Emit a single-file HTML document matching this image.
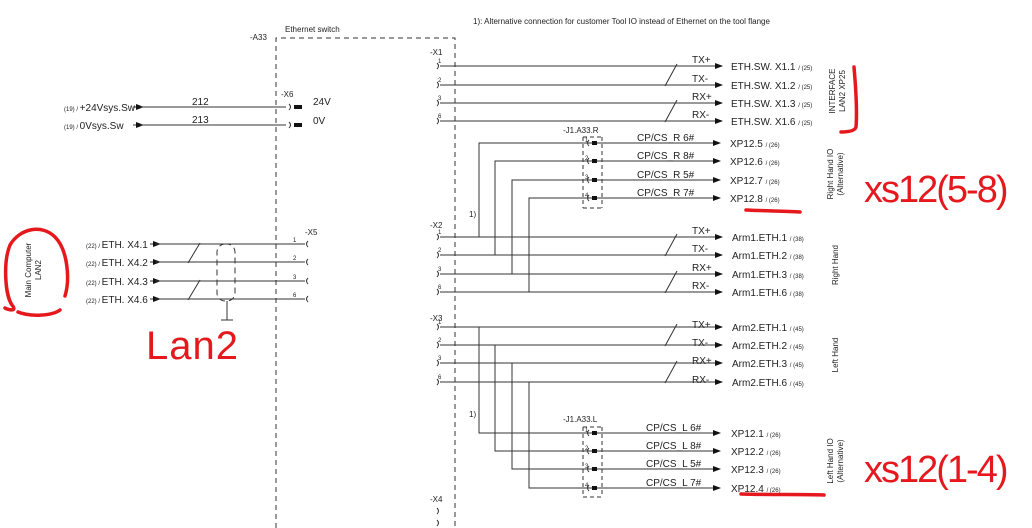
<!DOCTYPE html>
<html><head><meta charset="utf-8"><style>
body{margin:0;background:#fff}
svg{display:block}
text{font-family:"Liberation Sans",sans-serif;fill:#222}
.s{font-size:10px}
.t{font-size:6px}
.r{fill:none;stroke:#e5191d;stroke-width:3.5;stroke-linecap:round;stroke-linejoin:round}
</style></head><body>
<svg width="1032" height="528" viewBox="0 0 1032 528" xmlns="http://www.w3.org/2000/svg">
<defs><marker id="a" markerWidth="8" markerHeight="6" refX="7" refY="3" orient="auto" markerUnits="userSpaceOnUse"><path d="M0,0L8,3L0,6z" fill="#111"/></marker></defs>
<g stroke="#333" stroke-width="1" fill="none">
<path d="M276,528V38H455V528" stroke-dasharray="5,4"/>
<g marker-end="url(#a)">
<path d="M440,66H722"/><path d="M440,85H722"/><path d="M440,103H722"/><path d="M440,121H722"/>
<path d="M440,237H722"/><path d="M440,255H722"/><path d="M440,274H722"/><path d="M440,292H722"/>
<path d="M440,327H722"/><path d="M440,345H722"/><path d="M440,363H722"/><path d="M440,382H722"/>
<path d="M479,237V143H720"/><path d="M495,255V161H720"/><path d="M512,274V180H720"/><path d="M529,292V198H720"/>
<path d="M479,327V433H720"/><path d="M495,345V451H720"/><path d="M512,363V469H720"/><path d="M529,382V488H720"/>
<path d="M133,107H143"/><path d="M133,125H143"/>
<path d="M150,244H160"/><path d="M150,262H160"/><path d="M150,281H160"/><path d="M150,299H160"/>
</g>
<path d="M665,86L677,64M665,122L677,100M665,256L677,234M665,293L677,271M665,346L677,324M665,383L677,361"/>
<path d="M583,137V208M602,137V208M583,208H602M583,137H602" stroke-dasharray="4,3"/>
<path d="M583,427V497M602,427V497M583,497H602M583,427H602" stroke-dasharray="4,3"/>
<path d="M286,107H140M286,125H140"/>
<path d="M305,244H155M305,262H155M305,281H155M305,299H155"/>
<path d="M188,263L200,243M188,300L200,280"/>
<rect x="217" y="244" width="18" height="57" rx="8" stroke-dasharray="6,4"/>
<path d="M227,301V320M221,320H233"/>
<path d="M437,63q3,3 0,6M437,82q3,3 0,6M437,100q3,3 0,6M437,118q3,3 0,6M437,234q3,3 0,6M437,252q3,3 0,6M437,271q3,3 0,6M437,289q3,3 0,6M437,324q3,3 0,6M437,342q3,3 0,6M437,360q3,3 0,6M437,379q3,3 0,6M437,508q3,3 0,6M437,520q3,3 0,6"/>
<path d="M308,241q-3,3 0,6M308,259q-3,3 0,6M308,278q-3,3 0,6M308,296q-3,3 0,6"/>
<path d="M289,104q3,3 0,6M289,122q3,3 0,6M589,140q-3,3 0,6M589,158q-3,3 0,6M589,177q-3,3 0,6M589,195q-3,3 0,6M589,430q-3,3 0,6M589,448q-3,3 0,6M589,466q-3,3 0,6M589,485q-3,3 0,6"/>
</g>
<g fill="#111">
<rect x="294" y="105" width="8" height="4"/><rect x="294" y="123" width="8" height="4"/>
<rect x="592" y="141" width="5" height="4"/><rect x="592" y="159" width="5" height="4"/><rect x="592" y="178" width="5" height="4"/><rect x="592" y="196" width="5" height="4"/>
<rect x="592" y="431" width="5" height="4"/><rect x="592" y="449" width="5" height="4"/><rect x="592" y="467" width="5" height="4"/><rect x="592" y="486" width="5" height="4"/>
</g>
<text x="473" y="24" style="font-size:8px">1):  Alternative connection for customer Tool IO instead of Ethernet on the tool flange</text>
<text x="285" y="32" style="font-size:8px">Ethernet switch</text>
<text x="250" y="40" style="font-size:8px">-A33</text>
<text x="430" y="55" style="font-size:8px">-X1</text>
<text x="430" y="228" style="font-size:8px">-X2</text>
<text x="430" y="321" style="font-size:8px">-X3</text>
<text x="430" y="502" style="font-size:8px">-X4</text>
<text x="281" y="97" style="font-size:8px">-X6</text>
<text x="305" y="235" style="font-size:8px">-X5</text>
<text x="563" y="133" style="font-size:8px">-J1.A33.R</text>
<text x="563" y="422" style="font-size:8px">-J1.A33.L</text>
<text x="469" y="217" style="font-size:8px">1)</text>
<text x="469" y="417" style="font-size:8px">1)</text>
<g class="s">
<text x="692" y="63">TX+</text><text x="692" y="82">TX-</text><text x="692" y="100">RX+</text><text x="692" y="118">RX-</text>
<text x="692" y="234">TX+</text><text x="692" y="252">TX-</text><text x="692" y="271">RX+</text><text x="692" y="289">RX-</text>
<text x="692" y="328">TX+</text><text x="692" y="346">TX-</text><text x="692" y="364">RX+</text><text x="692" y="383">RX-</text>
<text x="637" y="141">CP/CS_R 6#</text><text x="637" y="159">CP/CS_R 8#</text><text x="637" y="178">CP/CS_R 5#</text><text x="637" y="196">CP/CS_R 7#</text>
<text x="646" y="431">CP/CS_L 6#</text><text x="646" y="449">CP/CS_L 8#</text><text x="646" y="467">CP/CS_L 5#</text><text x="646" y="486">CP/CS_L 7#</text>
<text x="731" y="70">ETH.SW. X1.1 <tspan class="t">/ (25)</tspan></text>
<text x="731" y="89">ETH.SW. X1.2 <tspan class="t">/ (25)</tspan></text>
<text x="731" y="107">ETH.SW. X1.3 <tspan class="t">/ (25)</tspan></text>
<text x="731" y="125">ETH.SW. X1.6 <tspan class="t">/ (25)</tspan></text>
<text x="730" y="147">XP12.5 <tspan class="t">/ (26)</tspan></text>
<text x="730" y="165">XP12.6 <tspan class="t">/ (26)</tspan></text>
<text x="730" y="184">XP12.7 <tspan class="t">/ (26)</tspan></text>
<text x="730" y="202">XP12.8 <tspan class="t">/ (26)</tspan></text>
<text x="732" y="241">Arm1.ETH.1 <tspan class="t">/ (38)</tspan></text>
<text x="732" y="259">Arm1.ETH.2 <tspan class="t">/ (38)</tspan></text>
<text x="732" y="278">Arm1.ETH.3 <tspan class="t">/ (38)</tspan></text>
<text x="732" y="296">Arm1.ETH.6 <tspan class="t">/ (38)</tspan></text>
<text x="732" y="331">Arm2.ETH.1 <tspan class="t">/ (45)</tspan></text>
<text x="732" y="349">Arm2.ETH.2 <tspan class="t">/ (45)</tspan></text>
<text x="732" y="367">Arm2.ETH.3 <tspan class="t">/ (45)</tspan></text>
<text x="732" y="386">Arm2.ETH.6 <tspan class="t">/ (45)</tspan></text>
<text x="731" y="437">XP12.1 <tspan class="t">/ (26)</tspan></text>
<text x="731" y="455">XP12.2 <tspan class="t">/ (26)</tspan></text>
<text x="731" y="473">XP12.3 <tspan class="t">/ (26)</tspan></text>
<text x="731" y="492">XP12.4 <tspan class="t">/ (26)</tspan></text>
<text x="64" y="111"><tspan class="t">(19) / </tspan>+24Vsys.Sw</text>
<text x="64" y="129"><tspan class="t">(19) / </tspan>0Vsys.Sw</text>
<text x="192" y="105">212</text><text x="192" y="123">213</text>
<text x="313" y="105">24V</text><text x="313" y="124">0V</text>
<text x="86" y="248"><tspan class="t">(22) / </tspan>ETH. X4.1</text>
<text x="86" y="266"><tspan class="t">(22) / </tspan>ETH. X4.2</text>
<text x="86" y="285"><tspan class="t">(22) / </tspan>ETH. X4.3</text>
<text x="86" y="303"><tspan class="t">(22) / </tspan>ETH. X4.6</text>
</g>
<g class="t">
<text x="293" y="242">1</text><text x="293" y="260">2</text><text x="293" y="279">3</text><text x="293" y="297">6</text>
<text x="438" y="63">1</text><text x="438" y="82">2</text><text x="438" y="100">3</text><text x="438" y="118">6</text>
<text x="438" y="234">1</text><text x="438" y="252">2</text><text x="438" y="271">3</text><text x="438" y="289">6</text>
<text x="438" y="324">1</text><text x="438" y="342">2</text><text x="438" y="360">3</text><text x="438" y="379">6</text>
<text x="585" y="142">1</text><text x="585" y="160">2</text><text x="585" y="179">3</text><text x="585" y="197">4</text>
<text x="585" y="432">1</text><text x="585" y="450">2</text><text x="585" y="468">3</text><text x="585" y="487">4</text>
</g>
<g style="font-size:8px" text-anchor="middle">
<text transform="translate(835,91) rotate(-90)">INTERFACE</text>
<text transform="translate(845,91) rotate(-90)">LAN2 XP25</text>
<text transform="translate(833,174) rotate(-90)">Right Hand IO</text>
<text transform="translate(843,174) rotate(-90)">(Alternative)</text>
<text transform="translate(838,265) rotate(-90)">Right Hand</text>
<text transform="translate(838,355) rotate(-90)">Left Hand</text>
<text transform="translate(833,461) rotate(-90)">Left Hand IO</text>
<text transform="translate(843,461) rotate(-90)">(Alternative)</text>
<text transform="translate(31,270) rotate(-90)">Main Computer</text>
<text transform="translate(41,270) rotate(-90)">LAN2</text>
</g>
<path class="r" d="M854,67C856,90 857,115 856,127C855,131 848,132 841,132"/>
<path class="r" d="M746,210C765,211 785,211 800,212"/>
<path class="r" d="M741,494C770,495 800,494 824,495"/>
<path class="r" d="M65,296C70,280 68,250 55,237C42,224 20,228 10,245C3,262 5,295 12,305C18,312 8,310 5,308"/>
<path class="r" d="M60,310C52,316 30,317 18,312"/>
<text x="864" y="202" style="fill:#e5191d;font-size:38px;letter-spacing:-2px">xs12(5-8)</text>
<text x="864" y="482" style="fill:#e5191d;font-size:38px;letter-spacing:-2px">xs12(1-4)</text>
<text x="146" y="359" style="fill:#e5191d;font-size:40px;letter-spacing:1px">Lan2</text>
</svg>
</body></html>
